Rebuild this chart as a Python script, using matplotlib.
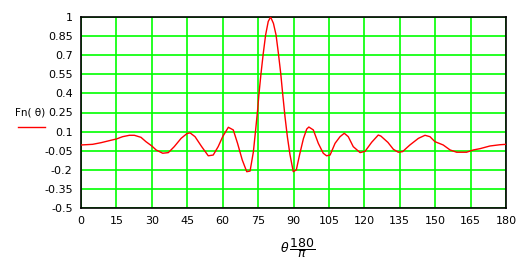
import numpy as np
import matplotlib
matplotlib.use("Agg")
import matplotlib.pyplot as plt

# angle in degrees and normalised pattern
theta = [0, 4.9, 8.5, 12.7, 15, 17.6, 20.5, 22.6, 25.4, 27.5, 30, 31.8, 34.6, 37, 39.5,
         42.4, 44.9, 46.2, 48.3, 51.1, 53.9, 56, 58.1, 60, 62.4, 64.5, 66.3, 68.3, 70.2,
         71.6, 73, 74, 74.8, 75.4, 76.2, 77.2, 78.2, 79.3, 80.3, 81.5, 82.6, 83.6, 84.6,
         85.4, 86.4, 87.4, 88.5, 89.9, 91.2, 92.6, 94.2, 95.6, 96.5, 98.4, 100.5, 102.6,
         104, 105.5, 107.6, 109.7, 111.5, 113.2, 115.3, 118.2, 120.3, 123.1, 125.9, 127,
         128.5, 130, 132.3, 134.4, 136.2, 139.3, 142.9, 145.7, 147.8, 149.9, 153.4, 156.3,
         159.1, 163.3, 166.2, 169, 173.2, 177.5, 180]
fn = [-0.005, 0.0, 0.013, 0.032, 0.042, 0.06, 0.071, 0.071, 0.055, 0.021, -0.013, -0.044,
      -0.07, -0.065, -0.018, 0.047, 0.085, 0.09, 0.06, -0.018, -0.09, -0.084, -0.018, 0.06,
      0.134, 0.113, 0.008, -0.123, -0.215, -0.21, -0.06, 0.12, 0.27, 0.40, 0.55, 0.715,
      0.86, 0.965, 1.0, 0.95, 0.86, 0.715, 0.555, 0.40, 0.217, 0.06, -0.08, -0.215, -0.2,
      -0.08, 0.045, 0.12, 0.136, 0.113, 0.008, -0.07, -0.09, -0.084, 0.008, 0.06, 0.087,
      0.06, -0.018, -0.065, -0.055, 0.016, 0.073, 0.065, 0.04, 0.015, -0.039, -0.062,
      -0.057, -0.005, 0.047, 0.071, 0.06, 0.021, -0.005, -0.044, -0.062, -0.062, -0.044,
      -0.034, -0.013, -0.003, 0.0]

xticks = np.arange(0, 181, 15)
yticks = [-0.5, -0.35, -0.2, -0.05, 0.1, 0.25, 0.4, 0.55, 0.7, 0.85, 1]
ylabels = ['-0.5', '-0.35', '-0.2', '-0.05', '0.1', '0.25', '0.4', '0.55', '0.7', '0.85', '1']

fig = plt.figure(figsize=(5.32, 2.67), dpi=100)
ax = fig.add_axes([81/532, 1-208/267, 425/532, 191/267])
ax.plot(theta, fn, color='#ff0000', lw=1.0, zorder=3)
ax.set_xlim(0, 180)
ax.set_ylim(-0.5, 1)
ax.set_xticks(xticks)
ax.set_xticklabels([str(v) for v in xticks], fontsize=8)
ax.set_yticks(yticks)
ax.set_yticklabels(ylabels, fontsize=8)
ax.tick_params(length=0, pad=6)
ax.grid(True, color='#00ff00', lw=1.2, zorder=1)
ax.set_axisbelow(True)
for s in ax.spines.values():
    s.set_color('black')
    s.set_linewidth(1.2)

fig.text(30/532, 1-113/267, 'Fn( θ)', fontsize=7.5, ha='center', va='center')
fig.add_artist(plt.Line2D([18/532, 45/532], [1-127/267, 1-127/267], color='#ff0000', lw=1.0))
fig.text(298/532, 1-248/267, r'$\theta\,\dfrac{180}{\pi}$', fontsize=9, ha='center', va='center')

fig.savefig('out.png', dpi=100)
